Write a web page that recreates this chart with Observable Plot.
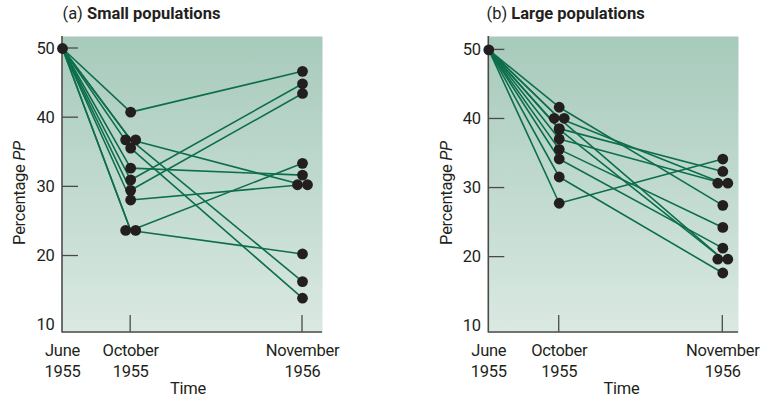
<!DOCTYPE html>
<html>
<head>
<meta charset="utf-8">
<script src="https://cdn.jsdelivr.net/npm/d3@7"></script>
<script src="https://cdn.jsdelivr.net/npm/@observablehq/plot@0.6"></script>
<style>
  html, body { margin: 0; padding: 0; background: #ffffff; }
  #wrap { position: relative; width: 762px; height: 399px; overflow: hidden; font-family: Roboto, sans-serif; color: #231f20; }
  #wrap svg.panel { position: absolute; top: 0; }
  #overlay { position: absolute; left: 0; top: 0; pointer-events: none; }
</style>
</head>
<body>
<div id="wrap"></div>
<script>
// ---- data ----
const timeLabels = ["June\n1955", "October\n1955", "November\n1956"];
const timeMonths = [0, 4, 17];            // months since June 1955
const startPct = 50;                      // every population starts at 50 %
const yTicks = [50, 40, 30, 20, 10];

// (a) Small populations: October 1955 and November 1956 values, same order = same population
const smallOct = [40.8, 31.0, 29.5, 32.7, 28.1, 23.7, 23.7, 36.8, 36.8, 35.6];
const smallNov = [46.7, 44.9, 43.5, 31.7, 30.3, 33.4, 20.3, 30.3, 16.3, 13.9];

// (b) Large populations
const largeOct = [41.7, 40.1, 40.1, 38.6, 37.1, 35.6, 34.2, 31.6, 27.8, 38.5];
const largeNov = [27.5, 30.7, 19.7, 32.4, 30.7, 24.3, 21.3, 17.7, 34.2, 19.7];

// ---- styling ----
const ink = "#231f20";
const green = "#0d6e4d";
const axisCol = "#4a4a4a";
const fontFam = "Roboto, sans-serif";

function buildRows(oct, nov) {
  const rows = [];
  oct.forEach((o, i) => {
    rows.push({pop: i, t: timeMonths[0], v: startPct});
    rows.push({pop: i, t: timeMonths[1], v: o});
    rows.push({pop: i, t: timeMonths[2], v: nov[i]});
  });
  return rows;
}

function buildDots(rows) {
  const out = [];
  const groups = d3.rollups(rows, g => g.length, d => d.t, d => d.v);
  for (const [t, vs] of groups) {
    for (const [v, n] of vs) {
      if (t !== timeMonths[0] && n === 2) {
        out.push({t, v, off: -1});
        out.push({t, v, off: 1});
      } else {
        out.push({t, v, off: 0});
      }
    }
  }
  return out;
}

function panel(oct, nov, cfg) {
  const rows = buildRows(oct, nov);
  const dots = buildDots(rows);
  const gid = "bg" + cfg.id;
  const axesMark = (index, scales, values, dims) => {
    const g = d3.create("svg:g");
    const x0 = dims.marginLeft, x1 = dims.width - dims.marginRight;
    const yTop = dims.marginTop, yBot = dims.height - dims.marginBottom;
    g.append("line").attr("x1", x0).attr("x2", x0).attr("y1", yTop).attr("y2", yBot + 0.5)
      .attr("stroke", axisCol).attr("stroke-width", 1.6);
    g.append("line").attr("x1", x0).attr("x2", x1).attr("y1", yBot).attr("y2", yBot)
      .attr("stroke", axisCol).attr("stroke-width", 1.6);
    for (const v of yTicks.filter(d => d > 10)) {
      const y = scales.y(v);
      g.append("line").attr("x1", x0).attr("x2", x0 + 16).attr("y1", y).attr("y2", y)
        .attr("stroke", axisCol).attr("stroke-width", 1.3);
    }
    for (const t of timeMonths.slice(1)) {
      const x = scales.x(t);
      g.append("line").attr("x1", x).attr("x2", x).attr("y1", yBot).attr("y2", yBot - 17)
        .attr("stroke", axisCol).attr("stroke-width", 1.3);
    }
    return g.node();
  };
  const svg = Plot.plot({
    width: 381,
    height: 399,
    marginLeft: cfg.marginLeft,
    marginRight: cfg.marginRight,
    marginTop: 36,
    marginBottom: 67,
    style: {fontFamily: fontFam, fontSize: "16.5px", color: ink, background: "transparent", overflow: "visible", letterSpacing: "-0.3px"},
    x: {type: "pow", exponent: cfg.exponent, domain: [0, 17], range: cfg.xRange},
    y: {domain: [10, 50], range: cfg.yRange},
    marks: [
      Plot.frame({fill: `url(#${gid})`, stroke: "none"}),
      Plot.axisY({ticks: yTicks, tickSize: 0, tickPadding: 8, label: null, fontSize: 16.5, fill: ink}),
      Plot.axisX({ticks: timeMonths, tickSize: 0, tickPadding: 8.5, label: null, fontSize: 16.5, fill: ink, lineHeight: 1.27,
                  tickFormat: d => timeLabels[timeMonths.indexOf(d)]}),
      axesMark,
      Plot.line(rows, {x: "t", y: "v", z: "pop", stroke: green, strokeWidth: 1.6, curve: "linear"}),
      Plot.dot(dots.filter(d => d.off === 0), {x: "t", y: "v", r: 5.4, fill: ink, stroke: "none"}),
      Plot.dot(dots.filter(d => d.off === -1), {x: "t", y: "v", r: 5.4, fill: ink, stroke: "none", dx: -5}),
      Plot.dot(dots.filter(d => d.off === 1), {x: "t", y: "v", r: 5.4, fill: ink, stroke: "none", dx: 5})
    ]
  });
  const defs = d3.select(svg).insert("defs", ":first-child");
  const lg = defs.append("linearGradient").attr("id", gid).attr("x1", 0).attr("y1", 0).attr("x2", 0).attr("y2", 1);
  lg.append("stop").attr("offset", "0%").attr("stop-color", "#a7cabb");
  lg.append("stop").attr("offset", "100%").attr("stop-color", "#dae9e2");
  svg.classList.add("panel");
  svg.style.left = cfg.left + "px";
  return svg;
}

const wrap = document.getElementById("wrap");
wrap.appendChild(panel(smallOct, smallNov, {id: "a", left: 0, marginLeft: 62, marginRight: 59, exponent: 0.87, xRange: [62, 302], yRange: [324.7, 48.0]}));
wrap.appendChild(panel(largeOct, largeNov, {id: "b", left: 381, marginLeft: 107.3, marginRight: 24, exponent: 0.83, xRange: [107.3, 341.3], yRange: [325.7, 49.4]}));

// ---- titles and axis titles ----
const ov = d3.select(wrap).append("svg").attr("id", "overlay").attr("width", 762).attr("height", 399)
  .style("font-family", fontFam).style("font-size", "16.5px").style("letter-spacing", "-0.3px").style("fill", ink);
const titles = [
  {x: 62.5, tag: "(a) ", name: "Small populations"},
  {x: 486.5, tag: "(b) ", name: "Large populations"}
];
for (const t of titles) {
  const tx = ov.append("text").attr("x", t.x).attr("y", 19).style("font-size", "16.5px").style("letter-spacing", "0px");
  tx.append("tspan").text(t.tag);
  tx.append("tspan").attr("font-weight", "bold").text(t.name);
}
for (const p of [{x: 25, y: 193}, {x: 452, y: 193}]) {
  const tx = ov.append("text").attr("transform", `translate(${p.x},${p.y}) rotate(-90)`).attr("text-anchor", "middle");
  tx.append("tspan").text("Percentage ");
  tx.append("tspan").attr("font-style", "italic").text("PP");
}
for (const x of [188, 621.5]) {
  ov.append("text").attr("x", x).attr("y", 394).attr("text-anchor", "middle").text("Time");
}
</script>
</body>
</html>
